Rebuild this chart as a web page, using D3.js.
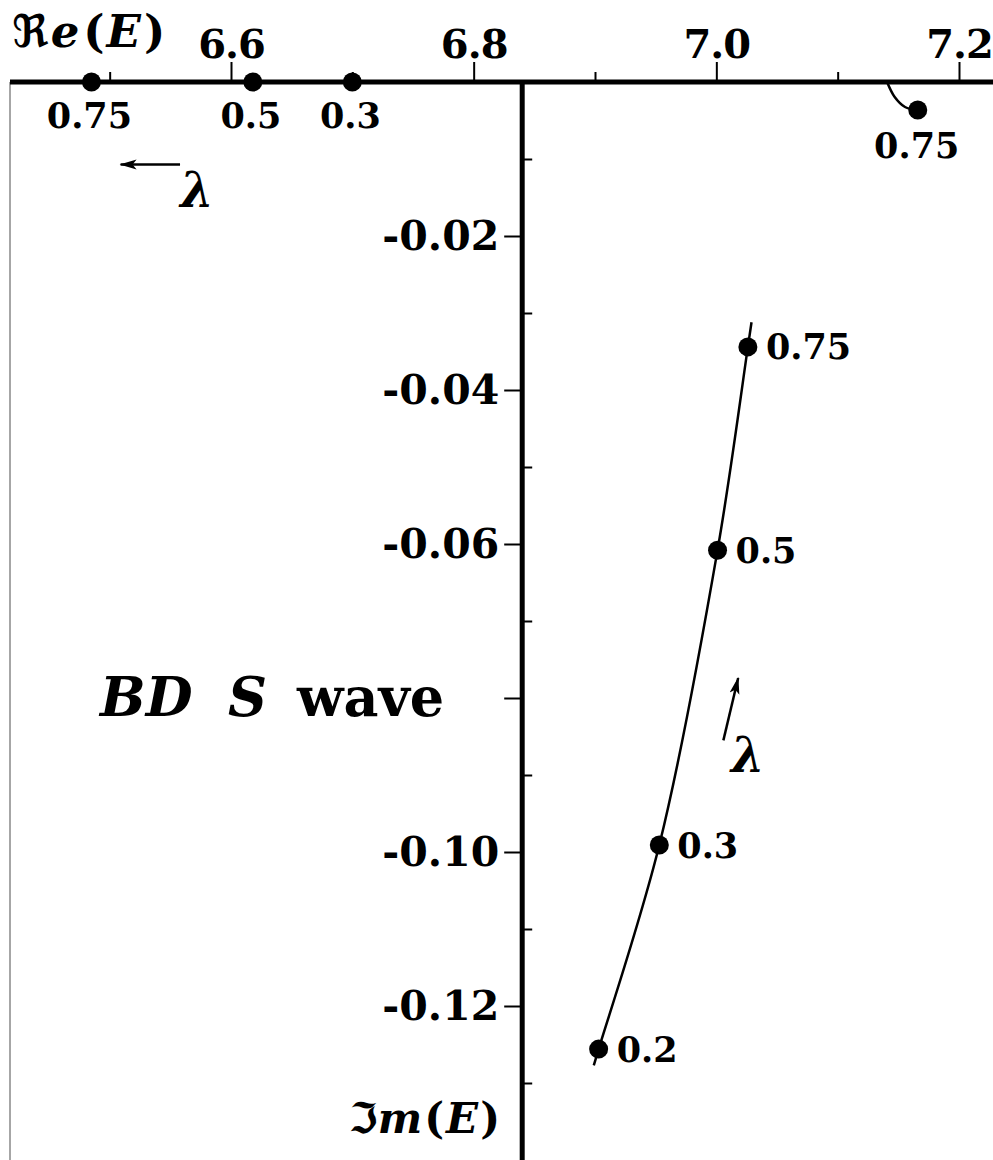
<!DOCTYPE html>
<meta charset="utf-8">
<head>
  <title>BD S wave</title>
  <script src="https://d3js.org/d3.v7.min.js"></script>
  <style>
    body {margin: 0; background: #fff;}
    text {font-family: "DejaVu Serif", "DejaVu Sans", serif; font-weight: bold; fill: #000;}
    .tick line {stroke: #000; stroke-width: 2px;}
  </style>
</head>
<body>
<script>
// values: Re(E), Im(E) for several lambda
var branchLabels = ["0.75", "0.5", "0.3", "0.2"];
var branchRe = [7.026, 7.001, 6.953, 6.903];
var branchIm = [-0.0344, -0.0608, -0.0991, -0.1256];

// the drawn trajectory (runs a little past the marked points)
var curveRe = [7.029, 7.026, 7.001, 6.953, 6.903, 6.899];
var curveIm = [-0.0312, -0.0344, -0.0608, -0.0991, -0.1256, -0.1277];

// bound states sitting on the real axis
var axisLabels = ["0.75", "0.5", "0.3"];
var axisRe = [6.485, 6.618, 6.700];

// short piece leaving the axis near 7.14
var hookRe = [7.1407, 7.147, 7.1555, 7.166];
var hookIm = [0, -0.00195, -0.00325, -0.00364];
var hookLabel = "0.75";

var xMajor = [6.6, 6.8, 7.0, 7.2];
var xMinor = [6.5, 6.7, 6.9, 7.1];
var yMajor = [-0.02, -0.04, -0.06, -0.08, -0.10, -0.12];
var yMinor = [-0.01, -0.03, -0.05, -0.07, -0.09, -0.11, -0.13];
var yNoLabel = [-0.08];

// arrows showing growing lambda
var arrowLeft = [[6.558, -0.0107], [6.509, -0.0107]];
var arrowUp = [[7.0058, -0.0855], [7.018, -0.0774]];
var lambdaPos = [[6.572, -0.0162], [7.026, -0.0896]];

var width = 993, height = 1160;
var yAxisRe = 6.84;   // where the vertical axis crosses

var svg = d3.select("body").append("svg")
    .attr("width", width)
    .attr("height", height);

var x = d3.scaleLinear().domain([6.6, 7.2]).range([231, 959]);
var y = d3.scaleLinear().domain([0, -0.12]).range([82, 1006]);

svg.append("defs").append("marker")
    .attr("id", "head")
    .attr("markerUnits", "userSpaceOnUse")
    .attr("markerWidth", 18).attr("markerHeight", 12)
    .attr("refX", 16).attr("refY", 6)
    .attr("orient", "auto")
  .append("path")
    .attr("d", "M0,1 L17,6 L0,11 L4,6 z")
    .attr("fill", "#000");

// thin frame line on the left
svg.append("line")
    .attr("x1", 10).attr("x2", 10)
    .attr("y1", y(0)).attr("y2", height)
    .attr("stroke", "#888").attr("stroke-width", 1.5);

// top (real) axis
var fmt1 = d3.format(".1f");
svg.append("g")
    .attr("transform", "translate(0," + y(0) + ")")
    .call(d3.axisTop(x).tickValues(xMajor).tickSize(20).tickPadding(4).tickSizeOuter(0)
        .tickFormat(function(d){ return fmt1(d); }))
    .call(function(g){ g.select(".domain").remove(); })
    .selectAll("text")
    .style("font-size", "40px")
    .style("letter-spacing", "-1px")
    .attr("fill", "#000");

svg.append("g")
    .attr("transform", "translate(0," + y(0) + ")")
    .call(d3.axisTop(x).tickValues(xMinor).tickSize(10).tickSizeOuter(0).tickFormat(""))
    .call(function(g){ g.select(".domain").remove(); });

// vertical (imaginary) axis
var fmt2 = function(d){ return d3.format(".2f")(d).replace("\u2212", "-"); };
svg.append("g")
    .attr("transform", "translate(" + x(yAxisRe) + ",0)")
    .call(d3.axisLeft(y).tickValues(yMajor).tickSize(18).tickPadding(5).tickSizeOuter(0)
        .tickFormat(function(d){ return yNoLabel.indexOf(d) >= 0 ? "" : fmt2(d); }))
    .call(function(g){ g.select(".domain").remove(); })
    .selectAll("text")
    .style("font-size", "41px")
    .attr("fill", "#000");

svg.append("g")
    .attr("transform", "translate(" + x(yAxisRe) + ",0)")
    .call(d3.axisRight(y).tickValues(yMinor).tickSize(10).tickSizeOuter(0).tickFormat(""))
    .call(function(g){ g.select(".domain").remove(); });

// heavy axis lines
svg.append("line")
    .attr("x1", 10).attr("x2", width)
    .attr("y1", y(0)).attr("y2", y(0))
    .attr("stroke", "#000").attr("stroke-width", 5);
svg.append("line")
    .attr("x1", x(yAxisRe)).attr("x2", x(yAxisRe))
    .attr("y1", y(0)).attr("y2", height)
    .attr("stroke", "#000").attr("stroke-width", 5);

// trajectory
var line = d3.line()
    .x(function(d){ return x(d[0]); })
    .y(function(d){ return y(d[1]); })
    .curve(d3.curveCatmullRom);

svg.append("path")
    .datum(d3.zip(curveRe, curveIm))
    .attr("d", line)
    .attr("fill", "none").attr("stroke", "#000").attr("stroke-width", 2.5);

svg.append("path")
    .datum(d3.zip(hookRe, hookIm))
    .attr("d", line)
    .attr("fill", "none").attr("stroke", "#000").attr("stroke-width", 2.5);

// marked points on the trajectory
var branch = d3.zip(branchRe, branchIm, branchLabels);
svg.selectAll(".bdot")
    .data(branch).enter()
    .append("circle")
    .attr("cx", function(d){ return x(d[0]); })
    .attr("cy", function(d){ return y(d[1]); })
    .attr("r", 9.5);
svg.selectAll(".blab")
    .data(branch).enter()
    .append("text")
    .attr("x", function(d){ return x(d[0]) + 18; })
    .attr("y", function(d){ return y(d[1]); })
    .attr("dy", "0.36em")
    .style("font-size", "35px")
    .text(function(d){ return d[2]; });

// points on the real axis
var onAxis = d3.zip(axisRe, axisLabels);
svg.selectAll(".adot")
    .data(onAxis).enter()
    .append("circle")
    .attr("cx", function(d){ return x(d[0]); })
    .attr("cy", y(0))
    .attr("r", 9.5);
svg.selectAll(".alab")
    .data(onAxis).enter()
    .append("text")
    .attr("x", function(d){ return x(d[0]) - 2; })
    .attr("y", y(0) + 46)
    .attr("text-anchor", "middle")
    .style("font-size", "35px")
    .text(function(d){ return d[1]; });

// end of the hook
var hEnd = hookRe.length - 1;
svg.append("circle")
    .attr("cx", x(hookRe[hEnd])).attr("cy", y(hookIm[hEnd]))
    .attr("r", 9.5);
svg.append("text")
    .attr("x", x(hookRe[hEnd]) - 1)
    .attr("y", y(hookIm[hEnd]) + 48)
    .attr("text-anchor", "middle")
    .style("font-size", "35px")
    .text(hookLabel);

// lambda arrows
[arrowLeft, arrowUp].forEach(function(a){
    svg.append("line")
        .attr("x1", x(a[0][0])).attr("y1", y(a[0][1]))
        .attr("x2", x(a[1][0])).attr("y2", y(a[1][1]))
        .attr("stroke", "#000").attr("stroke-width", 2.5)
        .attr("marker-end", "url(#head)");
});
svg.selectAll(".lam")
    .data(lambdaPos).enter()
    .append("text")
    .attr("x", function(d){ return x(d[0]); })
    .attr("y", function(d){ return y(d[1]); })
    .attr("text-anchor", "middle")
    .style("font-size", "48px")
    .style("font-style", "italic")
    .text("\u03bb");

// axis names
var re = svg.append("text")
    .attr("x", 12).attr("y", 47)
    .style("font-size", "45px");
re.append("tspan").text("\u211c");
re.append("tspan").attr("dx", 2).style("font-style", "italic").text("e");
re.append("tspan").attr("dx", 4).text("(");
re.append("tspan").attr("dx", 2).style("font-style", "italic").text("E");
re.append("tspan").attr("dx", 3).text(")");

var im = svg.append("text")
    .attr("x", 500).attr("y", 1133)
    .attr("text-anchor", "end")
    .style("font-size", "42px");
im.append("tspan").text("\u2111");
im.append("tspan").style("font-style", "italic").text("m");
im.append("tspan").attr("dx", 2).text("(");
im.append("tspan").attr("dx", 2).style("font-style", "italic").text("E");
im.append("tspan").attr("dx", 2).text(")");

// title
var title = svg.append("text")
    .attr("y", 716)
    .style("font-size", "54px");
title.append("tspan").attr("x", 100).style("font-style", "italic").text("BD");
title.append("tspan").attr("x", 228).style("font-style", "italic").text("S");
title.append("tspan").attr("x", 297).text("wave");
</script>
</body>
</html>
